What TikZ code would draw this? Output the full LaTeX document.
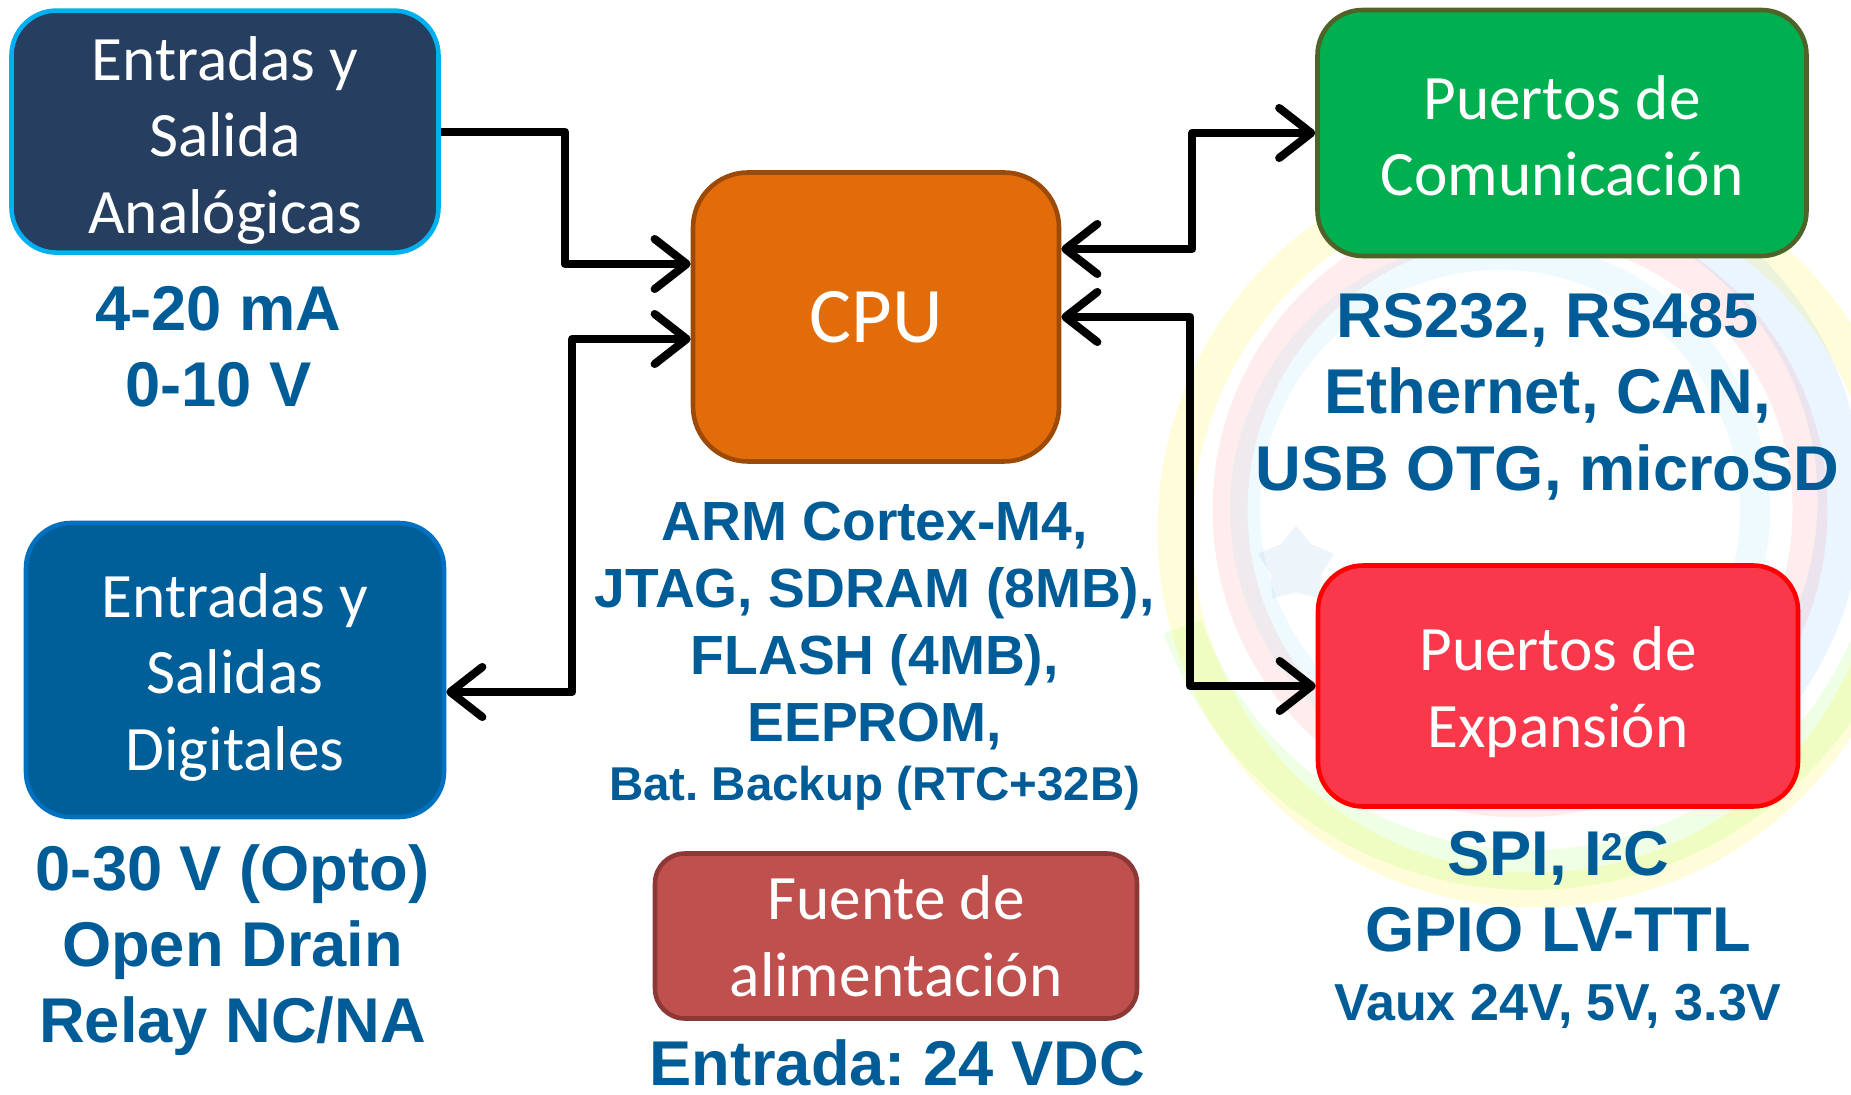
\documentclass[tikz,border=0pt]{standalone}
\usepackage{fontspec}
\setmainfont{Liberation Sans}
\newfontfamily\boxfont{Carlito}
\usetikzlibrary{arrows.meta,shapes.geometric}
\definecolor{navybox}{HTML}{263E5F}
\definecolor{navyedge}{HTML}{00B0F0}
\definecolor{digbox}{HTML}{005E98}
\definecolor{digedge}{HTML}{0070C0}
\definecolor{cpubox}{HTML}{E36C0A}
\definecolor{cpuedge}{HTML}{9C4A08}
\definecolor{combox}{HTML}{00B050}
\definecolor{comedge}{HTML}{4F6228}
\definecolor{expbox}{HTML}{F9394B}
\definecolor{expedge}{HTML}{FF0000}
\definecolor{fuebox}{HTML}{C0504D}
\definecolor{fueedge}{HTML}{8C3836}
\definecolor{lblblue}{HTML}{005C97}
\newcommand{\topstrut}[1]{\rule{0pt}{#1}}
\frenchspacing

\begin{document}
\begin{tikzpicture}[
  blk/.style={rounded corners=0.45cm, line width=1.3pt, text=white, align=center, inner sep=0pt,
    font=\boxfont\fontsize{18}{21.8}\selectfont},
  lbl/.style={text=lblblue, align=center, inner sep=0pt, font=\bfseries\fontsize{18}{21.6}\selectfont},
  conn/.style={line width=2.3pt, line join=round},
  >={Straight Barb[length=3.2mm,width=5mm,round]}
]
\useasboundingbox (0,0) rectangle (18.51,-10.95);
%WATERMARK
\begin{scope}
\clip (0,0) rectangle (18.51,-10.95);
\draw[line width=0.35cm, yellow, opacity=0.15] (15.35,-5.3) circle (3.6);
\draw[line width=0.35cm, red!70, opacity=0.10] (15.2,-5.1) circle (2.9);
\draw[line width=0.3cm, cyan!60, opacity=0.10] (15.0,-5.1) circle (2.55);
\draw[line width=0.45cm, blue!50!cyan, opacity=0.08] (15.2,-5.0) ++(-60:3.2) arc (-60:80:3.2);
\draw[line width=0.4cm, green!60!yellow, opacity=0.10] (15.3,-5.0) ++(200:3.7) arc (200:340:3.7);
\node[star, star points=5, fill=cyan!50!blue, opacity=0.08, minimum size=0.8cm] (wstar) at (12.96,-5.66) {};
\end{scope}
%BOXES
\node[blk, fill=navybox, draw=navyedge, minimum width=4.27cm, minimum height=2.42cm] (ana) at (2.25,-1.316) {\topstrut{17.5pt}Entradas y\\Salida\\Analógicas};
\node[blk, fill=digbox, draw=digedge, minimum width=4.18cm, minimum height=2.94cm] (dig) at (2.35,-6.70) {\topstrut{16.7pt}Entradas y\\Salidas\\Digitales};
\node[blk, fill=cpubox, draw=cpuedge, rounded corners=0.55cm, minimum width=3.66cm, minimum height=2.89cm,
  font=\boxfont\fontsize{22.4}{26}\selectfont] (cpu) at (8.76,-3.17) {CPU};
\node[blk, fill=combox, draw=comedge, minimum width=4.89cm, minimum height=2.46cm] (com) at (15.62,-1.33) {\topstrut{14.1pt}Puertos de\\Comunicación};
\node[blk, fill=expbox, draw=expedge, minimum width=4.80cm, minimum height=2.41cm] (exp) at (15.58,-6.86) {\topstrut{16.1pt}Puertos de\\Expansión};
\node[blk, fill=fuebox, draw=fueedge, rounded corners=0.3cm, minimum width=4.82cm, minimum height=1.65cm] (fue) at (8.96,-9.36) {Fuente de\\alimentación};
%LABELS
\node[lbl] (analbl) at (2.184,-3.465) {4-20 mA\\0-10 V};
\node[lbl, font=\bfseries\fontsize{15.7}{19.1}\selectfont] (cpulbl) at (8.747,-6.262) {ARM Cortex-M4,\\JTAG, SDRAM (8MB),\\FLASH (4MB),\\EEPROM,};
\node[lbl, font=\bfseries\fontsize{13.5}{16}\selectfont] (batlbl) at (8.747,-7.885) {Bat. Backup (RTC+32B)};
\node[lbl, font=\bfseries\fontsize{18}{21.8}\selectfont] (comlbl) at (15.476,-3.966) {RS232, RS485\\Ethernet, CAN,\\USB OTG, microSD};
\node[lbl] (explbl) at (15.58,-8.913) {SPI, I{\fontsize{11}{11}\selectfont\raisebox{4.2pt}{2}}C\\GPIO LV-TTL};
\node[lbl, font=\bfseries\fontsize{14.8}{17}\selectfont] (vauxlbl) at (15.58,-10.06) {Vaux 24V, 5V, 3.3V};
\node[lbl] (diglbl) at (2.326,-9.50) {0-30 V (Opto)\\Open Drain\\Relay NC/NA};
\node[lbl] (fuelbl) at (8.972,-10.63) {Entrada: 24 VDC};
%ARROWS
\draw[conn, ->] (ana.east) -- ++(1.24,0) |- ([yshift=0.53cm]cpu.west);
\draw[conn, <->] ([yshift=-0.22cm]dig.east) -- ++(1.26,0) |- ([yshift=-0.22cm]cpu.west);
\draw[conn, <->] ([yshift=0.68cm]cpu.east) -- ++(1.31,0) |- (com.west);
\draw[conn, <->] (cpu.east) -- ++(1.29,0) |- (exp.west);
\end{tikzpicture}
\end{document}
